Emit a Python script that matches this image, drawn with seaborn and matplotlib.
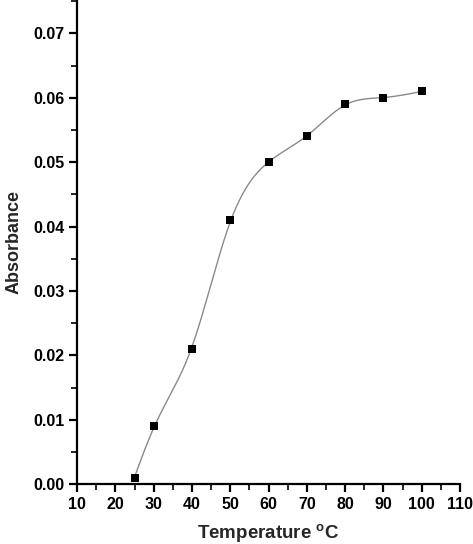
import numpy as np
import pandas as pd
import matplotlib
matplotlib.use("Agg")
import matplotlib.pyplot as plt
import seaborn as sns
from matplotlib.ticker import MultipleLocator

temperature = [25, 30, 40, 50, 60, 70, 80, 90, 100]
absorbance = [0.001, 0.009, 0.021, 0.041, 0.050, 0.054, 0.059, 0.060, 0.061]

sns.set_style("ticks")
plt.rcParams['font.family'] = ['Liberation Sans', 'DejaVu Sans']
plt.rcParams['font.weight'] = 'bold'
plt.rcParams['mathtext.fontset'] = 'custom'
plt.rcParams['mathtext.rm'] = 'Liberation Sans:bold'


def smoothing_spline(x, y, lam, n=600):
    """Cubic smoothing spline (Reinsch) drawn through/near the data points."""
    x = np.asarray(x, float)
    y = np.asarray(y, float)
    k = len(x)
    h = np.diff(x)
    Q = np.zeros((k, k - 2))
    R = np.zeros((k - 2, k - 2))
    for j in range(1, k - 1):
        Q[j - 1, j - 1] = 1 / h[j - 1]
        Q[j, j - 1] = -1 / h[j - 1] - 1 / h[j]
        Q[j + 1, j - 1] = 1 / h[j]
        R[j - 1, j - 1] = (h[j - 1] + h[j]) / 3
        if j < k - 2:
            R[j - 1, j] = h[j] / 6
            R[j, j - 1] = h[j] / 6
    g = np.linalg.solve(R + lam * Q.T @ Q, Q.T @ y)
    f = y - lam * Q @ g
    M = np.concatenate([[0], g, [0]])
    xs = np.linspace(x[0], x[-1], n)
    idx = np.clip(np.searchsorted(x, xs) - 1, 0, k - 2)
    x0, x1 = x[idx], x[idx + 1]
    hh = x1 - x0
    ys = (M[idx] * (x1 - xs) ** 3 / (6 * hh) + M[idx + 1] * (xs - x0) ** 3 / (6 * hh)
          + (f[idx] / hh - M[idx] * hh / 6) * (x1 - xs)
          + (f[idx + 1] / hh - M[idx + 1] * hh / 6) * (xs - x0))
    return xs, ys


SX, SY = 3.86, 6440.0  # approximate drawn scale (px per data unit) for smoothing
df = pd.DataFrame({"T": temperature, "A": absorbance})
xs, ys = smoothing_spline(np.array(temperature) * SX, np.array(absorbance) * SY, 300)
curve = pd.DataFrame({"T": xs / SX, "A": ys / SY})

fig = plt.figure(figsize=(4.73, 5.44), dpi=100)
ax = fig.add_axes([0.163, 0.110, 0.8095, 0.890])

sns.lineplot(data=curve, x="T", y="A", ax=ax, color="#8a8a8a", linewidth=1.0, sort=False)
sns.scatterplot(data=df, x="T", y="A", ax=ax, marker="s", s=38, color="black",
                edgecolor="black", linewidth=0, zorder=5)

ax.set_xlim(10, 110)
ax.set_ylim(0, 0.0752)
ax.xaxis.set_major_locator(MultipleLocator(10))
ax.xaxis.set_minor_locator(MultipleLocator(5))
ax.yaxis.set_major_locator(MultipleLocator(0.01))
ax.yaxis.set_minor_locator(MultipleLocator(0.005))
ax.yaxis.set_major_formatter(matplotlib.ticker.FormatStrFormatter("%.2f"))

for s in ["top", "right"]:
    ax.spines[s].set_visible(False)
for s in ["left", "bottom"]:
    ax.spines[s].set_linewidth(1.6)
    ax.spines[s].set_color("black")

ax.tick_params(which="major", direction="out", length=6, width=1.6, labelsize=11.5,
               colors="black", pad=3)
ax.tick_params(which="minor", direction="out", length=4, width=1.4)
for lab in ax.get_xticklabels() + ax.get_yticklabels():
    lab.set_fontweight("bold")

ax.set_xlabel("Temperature $^{\\mathrm{o}}$C", fontsize=13.5, fontweight="bold", labelpad=8)
ax.set_ylabel("Absorbance", fontsize=13, fontweight="bold", labelpad=8)

fig.savefig("out.png", dpi=100)
